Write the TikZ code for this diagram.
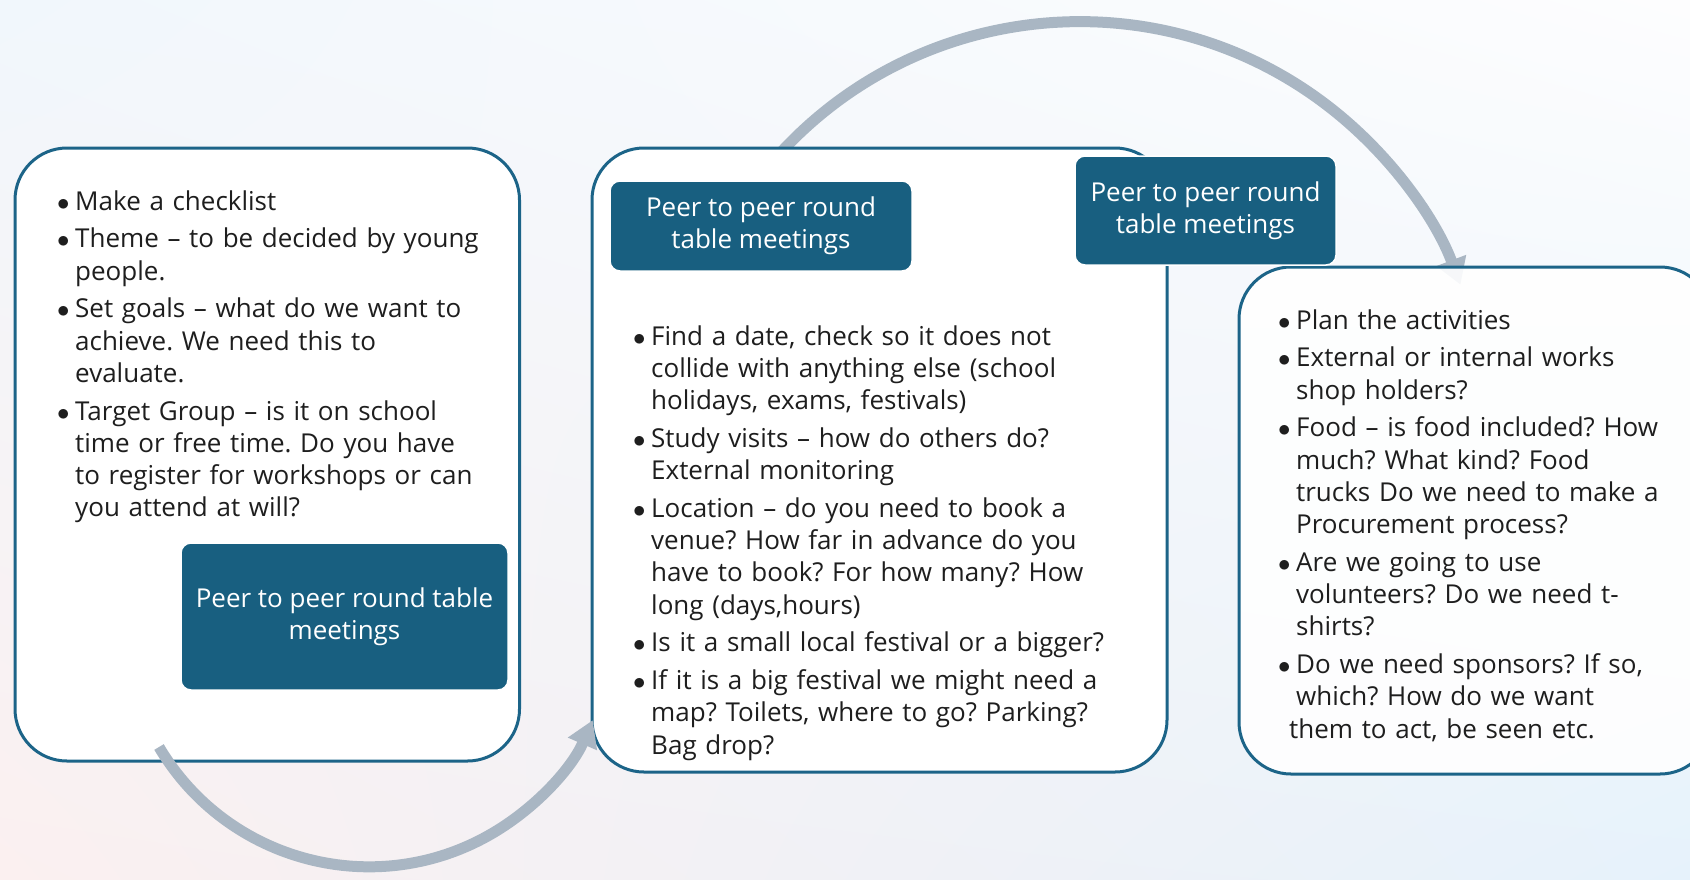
\documentclass[tikz,border=0pt]{standalone}
\usepackage{fontspec}
\setmainfont{Open Sans}
\usetikzlibrary{arrows.meta,shadings}
\definecolor{edge}{HTML}{1C6488}
\definecolor{tagblue}{HTML}{185F80}
\definecolor{loopgrey}{HTML}{A9B6C3}
\definecolor{ink}{HTML}{1E1E1E}
\definecolor{bgtl}{HTML}{F1F7FC}
\definecolor{bgtr}{HTML}{FDFDFE}
\definecolor{bgbl}{HTML}{FBF0F0}
\definecolor{bgbr}{HTML}{E6F2FB}
\newlength\bw \setlength\bw{18pt}
\newcommand\bodyfont{\fontsize{26pt}{32.3pt}\selectfont\frenchspacing}
\newcommand\bul[1]{\makebox[\bw][l]{$\bullet$}#1}
\newcommand\cont{\hspace*{\bw}}
\begin{document}
\begin{tikzpicture}[x=1pt,y=-1pt,
  stage/.style={draw=edge,line width=3pt,fill=white,rounded corners=52pt,inner sep=0pt},
  tag/.style={fill=tagblue,draw=white,line width=1.5pt,rounded corners=10pt,text=white,align=center,font=\bodyfont},
  flow/.style={draw=loopgrey,line width=11pt,-{Triangle[length=26pt,width=30pt]}},
  list/.style={anchor=base west,inner sep=0pt,text width=580pt,align=left,text=ink,font=\bodyfont}]
\useasboundingbox (0,0) rectangle (1690,879);
\clip (0,0) rectangle (1690,879);
\shade[upper left=bgtl,upper right=bgtr,lower left=bgbl,lower right=bgbr] (0,0) rectangle (1690,879);
\coordinate (topstart) at (768,167);
\coordinate (botstart) at (159,747);
\draw[flow] (topstart) arc[start angle=-140,end angle=-20.7,radius=407];
\node[stage,minimum width=504.5pt,minimum height=613pt] (plan) at (267.25,454.5) {};
\node[stage,minimum width=575pt,minimum height=624pt] (prepare) at (879.5,460) {};
\draw[flow] (botstart) arc[start angle=149.4,end angle=23.5,radius=244];
\node[stage,fill opacity=.9,minimum width=473pt,minimum height=507pt] (deliver) at (1475.5,520.5) {};
\node[list] (plantext) at (57,210) {%
\bul{Make a checklist}\\[5.4pt]
\bul{Theme – to be decided by young}\\
\cont people.\\[5.4pt]
\bul{Set goals – what do we want to}\\
\cont achieve. We need this to\\
\cont evaluate.\\[5.4pt]
\bul{Target Group – is it on school}\\
\cont time or free time. Do you have\\
\cont to register for workshops or can\\
\cont you attend at will?};
\node[list] (preparetext) at (633,345) {%
\bul{Find a date, check so it does not}\\
\cont collide with anything else (school\\
\cont holidays, exams, festivals)\\[5.4pt]
\bul{Study visits – how do others do?}\\
\cont External monitoring\\[5.4pt]
\bul{Location – do you need to book a}\\
\cont venue? How far in advance do you\\
\cont have to book? For how many? How\\
\cont long (days,hours)\\[5.4pt]
\bul{Is it a small local festival or a bigger?}\\[5.4pt]
\bul{If it is a big festival we might need a}\\
\cont map? Toilets, where to go? Parking?\\
\cont Bag drop?};
\node[list] (delivertext) at (1278,329) {%
\bul{Plan the activities}\\[5.4pt]
\bul{External or internal works}\\
\cont shop holders?\\[5.4pt]
\bul{Food – is food included? How}\\
\cont much? What kind? Food\\
\cont trucks Do we need to make a\\
\cont Procurement process?\\[5.4pt]
\bul{Are we going to use}\\
\cont volunteers? Do we need t-\\
\cont shirts?\\[5.4pt]
\bul{Do we need sponsors? If so,}\\
\cont which? How do we want\\
\hspace*{\dimexpr\bw-7pt}them to act, be seen etc.};
\node[tag,minimum width=327pt,minimum height=147pt] (tag1) at (344.5,616.5) {Peer to peer round table\\meetings};
\node[tag,minimum width=302pt,minimum height=90pt] (tag2) at (761,226) {Peer to peer round\\table meetings};
\node[tag,minimum width=261pt,minimum height=109pt] (tag3) at (1205.5,210.5) {Peer to peer round\\table meetings};
\end{tikzpicture}
\end{document}
